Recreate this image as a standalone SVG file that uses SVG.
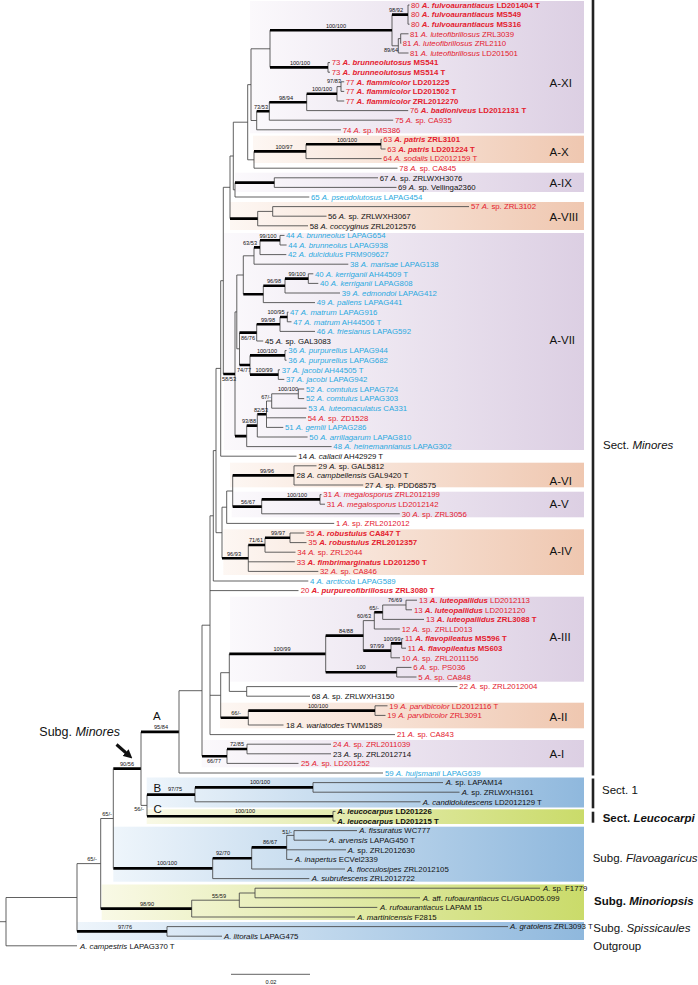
<svg xmlns="http://www.w3.org/2000/svg" width="698" height="985" viewBox="0 0 698 985">
<style>
text{font-family:'Liberation Sans',Arial,sans-serif}
.lf{font-size:7.8px}
.r{fill:#e4202e}.c{fill:#2aa9e0}.k{fill:#111}
.i{font-style:italic}.bi{font-style:italic;font-weight:bold}.b{font-weight:bold}
.s{font-size:5.6px;fill:#111;text-anchor:middle}
.cl{font-size:11.5px;fill:#111}
.sg{font-size:11.5px;fill:#111}
.tn{fill:none;stroke:#444;stroke-width:0.85}
.tk{fill:none;stroke:#000;stroke-width:2.6}
.bar{stroke:#222;stroke-width:2.6}
</style>
<defs>
<linearGradient id="gL" x1="0" x2="1" y1="0" y2="0"><stop offset="0" stop-color="#fbf9fc"/><stop offset="1" stop-color="#dccfe3"/></linearGradient>
<linearGradient id="gP" x1="0" x2="1" y1="0" y2="0"><stop offset="0" stop-color="#fdf7f3"/><stop offset="1" stop-color="#efc7b0"/></linearGradient>
<linearGradient id="gB" x1="0" x2="1" y1="0" y2="0"><stop offset="0" stop-color="#eef5fb"/><stop offset="1" stop-color="#8fb8dd"/></linearGradient>
<linearGradient id="gY" x1="0" x2="1" y1="0" y2="0"><stop offset="0" stop-color="#f9f9e6"/><stop offset="1" stop-color="#cadb6a"/></linearGradient>
<marker id="ah" viewBox="0 0 10 10" refX="5" refY="5" markerWidth="3" markerHeight="3" orient="auto"><path d="M0 0L10 5L0 10z" fill="#111"/></marker>
</defs>
<rect width="698" height="985" fill="#fff"/>
<g id="clade-boxes">
<rect x="250" y="1" width="334" height="132.3" fill="url(#gL)"/>
<rect x="253" y="135.7" width="331" height="27.3" fill="url(#gP)"/>
<rect x="235" y="172.7" width="349" height="19.3" fill="url(#gL)"/>
<rect x="230" y="202" width="354" height="28" fill="url(#gP)"/>
<rect x="224" y="233" width="360" height="217" fill="url(#gL)"/>
<rect x="230" y="462.7" width="354" height="24.6" fill="url(#gP)"/>
<rect x="231.7" y="491.7" width="352.3" height="25.6" fill="url(#gL)"/>
<rect x="223.3" y="529.3" width="360.7" height="45.7" fill="url(#gP)"/>
<rect x="230" y="596.7" width="354" height="85" fill="url(#gL)"/>
<rect x="220" y="702.7" width="364" height="25.6" fill="url(#gP)"/>
<rect x="201.7" y="740" width="382.3" height="27.3" fill="url(#gL)"/>
<rect x="146.7" y="777.5" width="437.3" height="30" fill="url(#gB)"/>
<rect x="146.7" y="809.3" width="437.3" height="14.7" fill="url(#gY)"/>
<rect x="113.3" y="826.7" width="470.7" height="55" fill="url(#gB)"/>
<rect x="101.7" y="884.5" width="482.3" height="35.5" fill="url(#gY)"/>
<rect x="77.3" y="922" width="506.7" height="18" fill="url(#gB)"/>
</g>
<g id="connectors">
<path class="tn" d="M0 921.7H6M6 897.5V945.8M6 945.8H77M6 897.5H77M77 863.6V931.4M77 863.6H100.7M167 926.6V936.2M167 926.6H508M167 936.2H222M100.7 818.5V908.6M100.7 818.5H113.3M191.7 900.2V917M191.7 900.2H239.3M191.7 917H355M239.3 893V907.4M239.3 893H255M239.3 907.4H377.3M255 888.2V897.8M255 888.2H540M255 897.8H420"/>
<path class="tk" d="M77 931.4H167M100.7 908.6H191.7M113.3 768.65H141M113.3 868.4H212.7"/>
<path class="tn" d="M113.3 768.65V868.4M212.7 858.2V878.6M212.7 878.6H309.3M251.7 847.4V869M251.7 869H345M286.7 835.4V859.4M286.7 835.4H294M286.7 849.8H346M286.7 859.4H292.5M294 830.6V840.2M294 830.6H357M294 840.2H327"/>
<path class="tk" d="M212.7 858.2H251.7M251.7 847.4H286.7"/>
<path class="tn" d="M141 731.9V805.4M141 805.4H147M147 794.6V816.2M195 787.4V801.8M195 801.8H420.5M313 782.6V792.2M313 782.6H443M313 792.2H459.5M333 811.4V821M333 811.4H335.5M333 821H335.5"/>
<path class="tk" d="M141 731.9H179M147 794.6H195M147 816.2H333M195 787.4H313"/>
<path class="tn" d="M179 690.7V773M179 690.7H202M179 773H383M202 625.2V756.2M202 625.2H210M227 749V763.4M227 763.4H298.5M247 744.2V753.8M247 744.2H331M247 753.8H331"/>
<path class="tk" d="M202 756.2H227M227 749H247"/>
<path class="tn" d="M210 515.8V734.6M210 515.8H213.3M210 590.6H298.5M210 695.3H220.7M210 734.6H395M220.7 672.7V717.8M220.7 672.7H229.3M248.3 710.6V725M248.3 725H283.5M375 705.8V715.4M375 705.8H387.5M375 715.4H385.5M229.3 653.9V691.4M229.3 691.4H246.7M246.7 686.6V696.2M246.7 686.6H457.5M246.7 696.2H310"/>
<path class="tk" d="M220.7 717.8H248.3M248.3 710.6H375M229.3 653.9H325.7"/>
<path class="tn" d="M325.7 635.6V672.2M396.7 667.4V677M396.7 667.4H411.5M396.7 677H416.5M363.3 620.6V650.6M363.3 620.6H374.3M374.3 612.2V629M374.3 629H399.8M382.7 605V619.4M382.7 605H406M382.7 619.4H424M406 600.2V609.8M406 600.2H417M406 609.8H412M391 643.4V657.8M391 657.8H400M401.7 638.6V648.2M401.7 638.6H403.3M401.7 648.2H406"/>
<path class="tk" d="M325.7 635.6H363.3M325.7 672.2H396.7M363.3 650.6H391M374.3 612.2H382.7M391 643.4H401.7"/>
<path class="tn" d="M213.3 450.6V581M213.3 450.6H216M213.3 581H308.3M216 368.4V532.7M216 368.4H220.7M216 532.7H222M222 507.2V558.2M222 507.2H226.7M248.3 545V571.4M248.3 561.8H294.8M248.3 571.4H318.3M265 537.8V552.2M265 552.2H295.5M290 533V542.6M290 533H304.3M290 542.6H306.5M226.7 491V523.4M226.7 491H232.7M226.7 523.4H334.2M232.7 475.4V506.6M294 465.8V485M294 465.8H316.5M294 485H363.2M261.7 499.4V513.8M261.7 513.8H399.8M320 494.6V504.2M320 494.6H321.5M320 504.2H325"/>
<path class="tk" d="M222 558.2H248.3M248.3 545H265M265 537.8H290M232.7 475.4H294M232.7 506.6H261.7M261.7 499.4H320"/>
<path class="tn" d="M220.7 280.7V456.2M220.7 280.7H223.3M220.7 456.2H296.5M223.3 187.3V374M223.3 187.3H230M235 311.9V436.1M235 311.9H236.8M236.8 275V348.8M236.8 275H243.3M236.8 348.8H239.5M239.5 332.6V365M256.7 324.2V341M256.7 341H263.2M280 317V331.4M280 331.4H315M287.3 312.2V321.8M287.3 312.2H288.5M287.3 321.8H291.5M250 355.4V374.6M285 350.6V360.2M285 350.6H286.6M285 360.2H286.6M278.3 369.8V379.4M278.3 369.8H280M278.3 379.4H284.3M243.3 255.8V294.2M243.3 255.8H254M254 247.4V264.2M254 264.2H348.3M260 240.2V254.6M260 254.6H286.3M280 235.4V245M280 235.4H284.5M280 245H286.6M263.3 285.8V302.6M263.3 302.6H315M285 278.6V293M285 293H340M308.3 273.8V283.4M308.3 273.8H313.3M308.3 283.4H318.3"/>
<path class="tk" d="M223.3 374H235M239.5 332.6H256.7M239.5 365H250M256.7 324.2H280M280 317H287.3M250 355.4H285M250 374.6H278.3M254 247.4H260M260 240.2H280M243.3 294.2H263.3M263.3 285.8H285M285 278.6H308.3M235 436.1H246.7M246.7 425.6H257.3M257.3 414.2H266.5"/>
<path class="tn" d="M246.7 425.6V446.6M246.7 446.6H331.6M257.3 414.2V437M257.3 437H307.6M266.5 401V427.4M266.5 401H271.7M266.5 417.8H306M266.5 427.4H283.3M271.7 393.8V408.2M271.7 393.8H298.3M271.7 408.2H306.6M298.3 389V398.6M298.3 389H304.2M298.3 398.6H304.2"/>
<path class="tn" d="M230 156V218.6M230 156H233.3M257.7 211.4V225.8M257.7 211.4H272.7M257.7 225.8H308M272.7 206.6V216.2M272.7 206.6H469M272.7 216.2H326.5M233.3 122.2V189.8M233.3 122.2H247.7M233.3 189.8H235M235 182.6V197M235 197H309.3M274.3 177.8V187.4M274.3 177.8H378M274.3 187.4H396.5"/>
<path class="tk" d="M230 218.6H257.7M235 182.6H274.3"/>
<path class="tn" d="M247.7 84.65V159.8M247.7 84.65H251M247.7 159.8H254M254 151.4V168.2M254 168.2H397.5M306 144.2V158.6M306 158.6H381.6M381 139.4V149M381 139.4H381.8M381 149H385.6M251 48.8V120.5M251 48.8H270M251 120.5H256.7M256.7 111.2V129.8M256.7 129.8H340.9M269.3 102.2V120.2M269.3 120.2H393.2M306.7 93.8V110.6M306.7 110.6H408.2M337 86.6V101M337 86.6H341M337 101H344.2M341 81.8V91.4M341 81.8H344.2M341 91.4H344.2M270 30.2V67.4M328 62.6V72.2M328 62.6H330M328 72.2H330M392 14.6V45.8M392 45.8H398.3M408 5V24.2M408 5H409.5M408 24.2H409.5M398.3 38.6V53M398.3 38.6H400.7M398.3 53H408.5M400.7 33.8V43.4M400.7 33.8H408.5M400.7 43.4H401.2"/>
<path class="tk" d="M254 151.4H306M306 144.2H381M256.7 111.2H269.3M269.3 102.2H306.7M306.7 93.8H337M270 30.2H392M270 67.4H328M392 14.6H408"/>
</g>
<g id="support-values">
<text class="s" x="396" y="12">98/92</text>
<text class="s" x="336" y="27.5">100/100</text>
<text class="s" x="391" y="52">89/64</text>
<text class="s" x="300" y="64.5">100/100</text>
<text class="s" x="334" y="83">97/83</text>
<text class="s" x="322" y="91">100/100</text>
<text class="s" x="286" y="99.5">98/94</text>
<text class="s" x="261" y="108.5">73/53</text>
<text class="s" x="347" y="141.5">100/100</text>
<text class="s" x="284" y="148.5">100/97</text>
<text class="s" x="268" y="237.5">99/100</text>
<text class="s" x="250" y="244.5">63/53</text>
<text class="s" x="297" y="276">99/100</text>
<text class="s" x="274" y="283">96/98</text>
<text class="s" x="276" y="314">100/95</text>
<text class="s" x="268" y="321.5">99/98</text>
<text class="s" x="248" y="340">86/76</text>
<text class="s" x="267" y="352.5">100/100</text>
<text class="s" x="264" y="371.5">100/99</text>
<text class="s" x="244" y="372">74/77</text>
<text class="s" x="229" y="381">58/53</text>
<text class="s" x="288" y="391">100/100</text>
<text class="s" x="266" y="399">67/-</text>
<text class="s" x="261" y="412">82/53</text>
<text class="s" x="249" y="423">93/88</text>
<text class="s" x="267" y="472.5">99/96</text>
<text class="s" x="297" y="496.5">100/100</text>
<text class="s" x="248" y="504">56/67</text>
<text class="s" x="278" y="535">99/97</text>
<text class="s" x="256" y="542">71/61</text>
<text class="s" x="234" y="555.5">96/93</text>
<text class="s" x="395" y="602">76/69</text>
<text class="s" x="374" y="609.5">65/-</text>
<text class="s" x="364" y="617.5">60/63</text>
<text class="s" x="346" y="632.5">84/88</text>
<text class="s" x="392" y="640.5">100/99</text>
<text class="s" x="377" y="647.5">97/99</text>
<text class="s" x="282" y="651">100/99</text>
<text class="s" x="361" y="669">100</text>
<text class="s" x="318" y="707.5">100/100</text>
<text class="s" x="236" y="715">66/-</text>
<text class="s" x="237" y="746">72/85</text>
<text class="s" x="214" y="763">66/77</text>
<text class="s" x="161" y="728.5">95/84</text>
<text class="s" x="127" y="765.5">90/56</text>
<text class="s" x="175" y="791">97/75</text>
<text class="s" x="260" y="784">100/100</text>
<text class="s" x="139" y="811">56/-</text>
<text class="s" x="245" y="813">100/100</text>
<text class="s" x="107" y="815.5">65/-</text>
<text class="s" x="287" y="833.5">51/-</text>
<text class="s" x="270" y="844">86/67</text>
<text class="s" x="223" y="855">92/70</text>
<text class="s" x="167" y="865">100/100</text>
<text class="s" x="92" y="860.5">65/-</text>
<text class="s" x="219" y="897.5">55/59</text>
<text class="s" x="147" y="905.5">98/90</text>
<text class="s" x="125" y="928.5">97/76</text>
</g>
<g id="clade-letters">
<text class="cl" x="153" y="720">A</text>
<text class="cl" x="153.5" y="791.7">B</text>
<text class="cl" x="153.5" y="813">C</text>
</g>
<g id="leaves">
<g id="leaf-1"><text class="lf r" x="411" y="7.8">80 <tspan class="bi">A. fulvoaurantiacus</tspan> <tspan class="b">LD201404 T</tspan></text></g>
<g id="leaf-2"><text class="lf r" x="411" y="17.4">80 <tspan class="bi">A. fulvoaurantiacus</tspan> <tspan class="b">MS549</tspan></text></g>
<g id="leaf-3"><text class="lf r" x="411" y="27">80 <tspan class="bi">A. fulvoaurantiacus</tspan> <tspan class="b">MS316</tspan></text></g>
<g id="leaf-4"><text class="lf r" x="410" y="36.6">81 <tspan class="i">A. luteofibrillosus</tspan> ZRL3039</text></g>
<g id="leaf-5"><text class="lf r" x="402.7" y="46.2">81 <tspan class="i">A. luteofibrillosus</tspan> ZRL2110</text></g>
<g id="leaf-6"><text class="lf r" x="410" y="55.8">81 <tspan class="i">A. luteofibrillosus</tspan> LD201501</text></g>
<g id="leaf-7"><text class="lf r" x="331.7" y="65.4">73 <tspan class="bi">A. brunneolutosus</tspan> <tspan class="b">MS541</tspan></text></g>
<g id="leaf-8"><text class="lf r" x="331.7" y="75">73 <tspan class="bi">A. brunneolutosus</tspan> <tspan class="b">MS514 T</tspan></text></g>
<g id="leaf-9"><text class="lf r" x="345.7" y="84.6">77 <tspan class="bi">A. flammicolor</tspan> <tspan class="b">LD201225</tspan></text></g>
<g id="leaf-10"><text class="lf r" x="345.7" y="94.2">77 <tspan class="bi">A. flammicolor</tspan> <tspan class="b">LD201502 T</tspan></text></g>
<g id="leaf-11"><text class="lf r" x="345.7" y="103.8">77 <tspan class="bi">A. flammicolor</tspan> <tspan class="b">ZRL2012270</tspan></text></g>
<g id="leaf-12"><text class="lf r" x="410" y="113.4">76 <tspan class="bi">A. badioniveus</tspan> <tspan class="b">LD2012131 T</tspan></text></g>
<g id="leaf-13"><text class="lf r" x="395" y="123">75 <tspan class="i">A.</tspan> sp. CA935</text></g>
<g id="leaf-14"><text class="lf r" x="342.7" y="132.6">74 <tspan class="i">A.</tspan> sp. MS386</text></g>
<g id="leaf-15"><text class="lf r" x="383.3" y="142.2">63 <tspan class="bi">A. patris</tspan> <tspan class="b">ZRL3101</tspan></text></g>
<g id="leaf-16"><text class="lf r" x="387.3" y="151.8">63 <tspan class="bi">A. patris</tspan> <tspan class="b">LD201224 T</tspan></text></g>
<g id="leaf-17"><text class="lf r" x="383.3" y="161.4">64 <tspan class="i">A. sodalis</tspan> LD2012159 T</text></g>
<g id="leaf-18"><text class="lf r" x="399.3" y="171">78 <tspan class="i">A.</tspan> sp. CA845</text></g>
<g id="leaf-19"><text class="lf k" x="379.7" y="180.6">67 <tspan class="i">A.</tspan> sp. ZRLWXH3076</text></g>
<g id="leaf-20"><text class="lf k" x="398" y="190.2">69 <tspan class="i">A.</tspan> sp. Vellinga2360</text></g>
<g id="leaf-21"><text class="lf c" x="311" y="199.8">65 <tspan class="i">A. pseudolutosus</tspan> LAPAG454</text></g>
<g id="leaf-22"><text class="lf r" x="471" y="209.4">57 <tspan class="i">A.</tspan> sp. ZRL3102</text></g>
<g id="leaf-23"><text class="lf k" x="328" y="219">56 <tspan class="i">A.</tspan> sp. ZRLWXH3067</text></g>
<g id="leaf-24"><text class="lf k" x="309.7" y="228.6">58 <tspan class="i">A. coccyginus</tspan>  ZRL2012576</text></g>
<g id="leaf-25"><text class="lf c" x="286" y="238.2">44 <tspan class="i">A. brunneolus</tspan> LAPAG654</text></g>
<g id="leaf-26"><text class="lf c" x="288.3" y="247.8">44 <tspan class="i">A. brunneolus</tspan> LAPAG938</text></g>
<g id="leaf-27"><text class="lf c" x="288" y="257.4">42 <tspan class="i">A. dulcidulus</tspan> PRM909627</text></g>
<g id="leaf-28"><text class="lf c" x="350" y="267">38 <tspan class="i">A. marisae</tspan> LAPAG138</text></g>
<g id="leaf-29"><text class="lf c" x="315" y="276.6">40 <tspan class="i">A. kerriganii</tspan> AH44509 T</text></g>
<g id="leaf-30"><text class="lf c" x="320" y="286.2">40 <tspan class="i">A. kerriganii</tspan> LAPAG808</text></g>
<g id="leaf-31"><text class="lf c" x="341.7" y="295.8">39 <tspan class="i">A. edmondoi</tspan> LAPAG412</text></g>
<g id="leaf-32"><text class="lf c" x="316.7" y="305.4">49 <tspan class="i">A. pallens</tspan> LAPAG441</text></g>
<g id="leaf-33"><text class="lf c" x="290" y="315">47 <tspan class="i">A. matrum</tspan> LAPAG916</text></g>
<g id="leaf-34"><text class="lf c" x="293.3" y="324.6">47 <tspan class="i">A. matrum</tspan> AH44506 T</text></g>
<g id="leaf-35"><text class="lf c" x="316.7" y="334.2">46 <tspan class="i">A. friesianus</tspan> LAPAG592</text></g>
<g id="leaf-36"><text class="lf k" x="265" y="343.8">45 <tspan class="i">A.</tspan> sp. GAL3083</text></g>
<g id="leaf-37"><text class="lf c" x="288.3" y="353.4">36 <tspan class="i">A. purpurellus</tspan> LAPAG944</text></g>
<g id="leaf-38"><text class="lf c" x="288.3" y="363">36 <tspan class="i">A. purpurellus</tspan> LAPAG682</text></g>
<g id="leaf-39"><text class="lf c" x="281.7" y="372.6">37 <tspan class="i">A. jacobi</tspan> AH44505 T</text></g>
<g id="leaf-40"><text class="lf c" x="286" y="382.2">37 <tspan class="i">A. jacobi</tspan> LAPAG942</text></g>
<g id="leaf-41"><text class="lf c" x="306" y="391.8">52 <tspan class="i">A. comtulus</tspan> LAPAG724</text></g>
<g id="leaf-42"><text class="lf c" x="306" y="401.4">52 <tspan class="i">A. comtulus</tspan> LAPAG303</text></g>
<g id="leaf-43"><text class="lf c" x="308.3" y="411">53 <tspan class="i">A. luteomaculatus</tspan> CA331</text></g>
<g id="leaf-44"><text class="lf r" x="307.7" y="420.6">54 <tspan class="i">A.</tspan> sp. ZD1528</text></g>
<g id="leaf-45"><text class="lf c" x="285" y="430.2">51 <tspan class="i">A. gemlii</tspan> LAPAG286</text></g>
<g id="leaf-46"><text class="lf c" x="309.3" y="439.8">50 <tspan class="i">A. arrillagarum</tspan> LAPAG810</text></g>
<g id="leaf-47"><text class="lf c" x="333.3" y="449.4">48 <tspan class="i">A. heinemannianus</tspan> LAPAG302</text></g>
<g id="leaf-48"><text class="lf k" x="298.3" y="459">14 <tspan class="i">A. callacii</tspan> AH42929 T</text></g>
<g id="leaf-49"><text class="lf k" x="318.3" y="468.6">29 <tspan class="i">A.</tspan> sp. GAL5812</text></g>
<g id="leaf-50"><text class="lf k" x="296.5" y="478.2">28 <tspan class="i">A. campbellensis</tspan> GAL9420 T</text></g>
<g id="leaf-51"><text class="lf k" x="365" y="487.8">27 <tspan class="i">A.</tspan> sp. PDD68575</text></g>
<g id="leaf-52"><text class="lf r" x="323.3" y="497.4">31 <tspan class="i">A. megalosporus</tspan> ZRL2012199</text></g>
<g id="leaf-53"><text class="lf r" x="326.7" y="507">31 <tspan class="i">A. megalosporus</tspan> LD2012142</text></g>
<g id="leaf-54"><text class="lf r" x="401.7" y="516.6">30 <tspan class="i">A.</tspan> sp. ZRL3056</text></g>
<g id="leaf-55"><text class="lf r" x="336" y="526.2">1 <tspan class="i">A.</tspan> sp. ZRL2012012</text></g>
<g id="leaf-56"><text class="lf r" x="306" y="535.8">35 <tspan class="bi">A. robustulus</tspan> <tspan class="b">CA847 T</tspan></text></g>
<g id="leaf-57"><text class="lf r" x="308.3" y="545.4">35 <tspan class="bi">A. robustulus</tspan> <tspan class="b">ZRL2012357</tspan></text></g>
<g id="leaf-58"><text class="lf r" x="297.3" y="555">34 <tspan class="i">A.</tspan> sp. ZRL2044</text></g>
<g id="leaf-59"><text class="lf r" x="296.7" y="564.6">33 <tspan class="bi">A. fimbrimarginatus</tspan> <tspan class="b">LD201250 T</tspan></text></g>
<g id="leaf-60"><text class="lf r" x="320" y="574.2">32 <tspan class="i">A.</tspan> sp. CA846</text></g>
<g id="leaf-61"><text class="lf c" x="310" y="583.8">4 <tspan class="i">A. arcticola</tspan> LAPAG589</text></g>
<g id="leaf-62"><text class="lf r" x="300.7" y="593.4">20 <tspan class="bi">A. purpureofibrillosus</tspan> <tspan class="b">ZRL3080 T</tspan></text></g>
<g id="leaf-63"><text class="lf r" x="419" y="603">13 <tspan class="bi">A. luteopallidus</tspan> LD2012113</text></g>
<g id="leaf-64"><text class="lf r" x="414" y="612.6">13 <tspan class="bi">A. luteopallidus</tspan> LD2012120</text></g>
<g id="leaf-65"><text class="lf r" x="426" y="622.2">13 <tspan class="bi">A. luteopallidus</tspan> <tspan class="b">ZRL3088 T</tspan></text></g>
<g id="leaf-66"><text class="lf r" x="401.7" y="631.8">12 <tspan class="i">A.</tspan> sp. ZRLLD013</text></g>
<g id="leaf-67"><text class="lf r" x="405" y="641.4">11 <tspan class="bi">A. flavopileatus</tspan> <tspan class="b">MS596 T</tspan></text></g>
<g id="leaf-68"><text class="lf r" x="407.7" y="651">11 <tspan class="bi">A. flavopileatus</tspan> <tspan class="b">MS603</tspan></text></g>
<g id="leaf-69"><text class="lf r" x="401.7" y="660.6">10 <tspan class="i">A.</tspan> sp. ZRL2011156</text></g>
<g id="leaf-70"><text class="lf r" x="413.3" y="670.2">6 <tspan class="i">A.</tspan> sp. PS036</text></g>
<g id="leaf-71"><text class="lf r" x="418.3" y="679.8">5 <tspan class="i">A.</tspan> sp. CA848</text></g>
<g id="leaf-72"><text class="lf r" x="459.3" y="689.4">22 <tspan class="i">A.</tspan> sp. ZRL2012004</text></g>
<g id="leaf-73"><text class="lf k" x="311.7" y="699">68 <tspan class="i">A.</tspan> sp. ZRLWXH3150</text></g>
<g id="leaf-74"><text class="lf r" x="389.3" y="708.6">19 <tspan class="i">A. parvibicolor</tspan> LD2012116 T</text></g>
<g id="leaf-75"><text class="lf r" x="387.3" y="718.2">19 <tspan class="i">A. parvibicolor</tspan> ZRL3091</text></g>
<g id="leaf-76"><text class="lf k" x="286" y="727.8">18 <tspan class="i">A. wariatodes</tspan> TWM1589</text></g>
<g id="leaf-77"><text class="lf r" x="397" y="737.4">21 <tspan class="i">A.</tspan> sp. CA843</text></g>
<g id="leaf-78"><text class="lf r" x="333" y="747">24 <tspan class="i">A.</tspan> sp. ZRL2011039</text></g>
<g id="leaf-79"><text class="lf k" x="333" y="756.6">23 <tspan class="i">A.</tspan> sp. ZRL2012714</text></g>
<g id="leaf-80"><text class="lf r" x="301" y="766.2">25 <tspan class="i">A.</tspan> sp. LD201252</text></g>
<g id="leaf-81"><text class="lf c" x="385" y="775.8">59 <tspan class="i">A. huijsmanii</tspan> LAPAG639</text></g>
<g id="leaf-82"><text class="lf k" x="445.7" y="785.4"><tspan class="i">A.</tspan> sp. LAPAM14</text></g>
<g id="leaf-83"><text class="lf k" x="461.7" y="795"><tspan class="i">A.</tspan> sp. ZRLWXH3161</text></g>
<g id="leaf-84"><text class="lf k" x="422.7" y="804.6"><tspan class="i">A. candidolutescens</tspan> LD2012129 T</text></g>
<g id="leaf-85"><text class="lf k" x="337.3" y="814.2"><tspan class="bi">A. leucocarpus</tspan> <tspan class="b">LD201226</tspan></text></g>
<g id="leaf-86"><text class="lf k" x="337.3" y="823.8"><tspan class="bi">A. leucocarpus</tspan> <tspan class="b">LD201215 T</tspan></text></g>
<g id="leaf-87"><text class="lf k" x="359.3" y="833.4"><tspan class="i">A. fissuratus</tspan> WC777</text></g>
<g id="leaf-88"><text class="lf k" x="329" y="843"><tspan class="i">A. arvensis</tspan> LAPAG450 T</text></g>
<g id="leaf-89"><text class="lf k" x="347.7" y="852.6"><tspan class="i">A.</tspan> sp. ZRL2012630</text></g>
<g id="leaf-90"><text class="lf k" x="295" y="862.2"><tspan class="i">A. inapertus</tspan> ECVel2339</text></g>
<g id="leaf-91"><text class="lf k" x="347.3" y="871.8"><tspan class="i">A. flocculosipes</tspan> ZRL2012105</text></g>
<g id="leaf-92"><text class="lf k" x="311.7" y="881.4"><tspan class="i">A. subrufescens</tspan> ZRL2012722</text></g>
<g id="leaf-93"><text class="lf k" x="543" y="891"><tspan class="i">A.</tspan> sp. F1779</text></g>
<g id="leaf-94"><text class="lf k" x="422.7" y="900.6"><tspan class="i">A.</tspan> aff. <tspan class="i">rufoaurantiacus</tspan> CL/GUAD05.099</text></g>
<g id="leaf-95"><text class="lf k" x="380" y="910.2"><tspan class="i">A. rufoaurantiacus</tspan> LAPAM 15</text></g>
<g id="leaf-96"><text class="lf k" x="357.3" y="919.8"><tspan class="i">A. martinicensis</tspan> F2815</text></g>
<g id="leaf-97"><text class="lf k" x="510" y="929.4"><tspan class="i">A. gratolens</tspan> ZRL3093 T</text></g>
<g id="leaf-98"><text class="lf k" x="224" y="939"><tspan class="i">A. litoralis</tspan> LAPAG475</text></g>
<g id="leaf-99"><text class="lf k" x="80" y="948.6"><tspan class="i">A. campestris</tspan> LAPAG370 T</text></g>
</g>
<g id="clade-labels">
<text class="cl" x="549.5" y="86.8">A-XI</text>
<text class="cl" x="549.5" y="155.8">A-X</text>
<text class="cl" x="549.5" y="186.8">A-IX</text>
<text class="cl" x="549.5" y="220.8">A-VIII</text>
<text class="cl" x="549.5" y="344.1">A-VII</text>
<text class="cl" x="549.5" y="484.8">A-VI</text>
<text class="cl" x="549.5" y="508.4">A-V</text>
<text class="cl" x="549.5" y="555.1">A-IV</text>
<text class="cl" x="549.5" y="641.4">A-III</text>
<text class="cl" x="549.5" y="720.8">A-II</text>
<text class="cl" x="549.5" y="758.1">A-I</text>
</g>
<g id="group-labels">
<line class="bar" x1="593" y1="0" x2="593" y2="775.5"/>
<line class="bar" x1="593" y1="778.5" x2="593" y2="808.3"/>
<line class="bar" x1="593" y1="811.7" x2="593" y2="822.7"/>
<text class="sg" x="603" y="449">Sect. <tspan class="i">Minores</tspan></text>
<text class="sg" x="602" y="794">Sect. 1</text>
<text class="sg b" x="602.7" y="822.3">Sect. <tspan class="bi">Leucocarpi</tspan></text>
<text class="sg" x="592.7" y="862.3">Subg. <tspan class="i">Flavoagaricus</tspan></text>
<text class="sg b" x="594" y="904.7">Subg. <tspan class="bi">Minoriopsis</tspan></text>
<text class="sg" x="593.3" y="932">Subg. <tspan class="i">Spissicaules</tspan></text>
<text class="sg" x="593.3" y="950">Outgroup</text>
<text x="39.3" y="736" font-size="12.5" fill="#111">Subg. <tspan class="i">Minores</tspan></text>
<line x1="116.5" y1="744.5" x2="129" y2="755.5" stroke="#111" stroke-width="3" marker-end="url(#ah)"/>
</g>
<g id="scale-bar">
<line x1="231" y1="974.3" x2="310" y2="974.3" stroke="#444" stroke-width="0.85"/>
<text class="s" x="271" y="984">0.02</text>
</g>
</svg>
